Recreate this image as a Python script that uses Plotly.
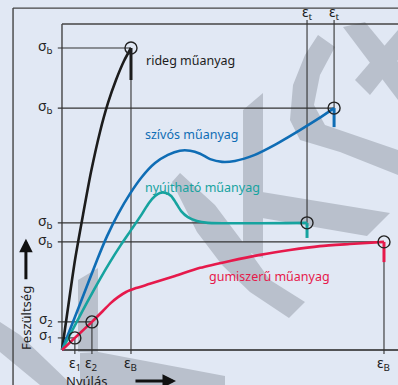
import plotly.graph_objects as go

# Stress-strain curves of plastics.
# Strain as % of the rubber-like break strain, stress as % of the brittle strength.
brittle_x = [0, 1.86, 4.04, 6.52, 9.01, 11.80, 14.29, 16.77, 19.25, 21.43]
brittle_y = [0, 13.9, 29.8, 44.7, 58.9, 72.2, 81.8, 89.4, 95.7, 100.0]

tough_x = [0, 5.6, 10.9, 14.0, 17.4, 21.1, 24.8, 28.9, 32.9, 36.6, 39.8, 42.9, 46.0, 49.7, 53.7, 59.9, 66.1, 73.9, 79.5, 84.5]
tough_y = [0, 15.2, 29.8, 37.7, 45.0, 51.7, 57.3, 61.9, 64.6, 66.0, 66.0, 65.0, 63.2, 62.3, 62.6, 64.6, 67.9, 72.8, 76.5, 80.1]

ductile_x = [0, 7.5, 11.8, 14.9, 18.3, 21.7, 24.8, 27.0, 28.9, 30.4, 32.3, 33.9, 35.4, 37.0, 39.1, 41.9, 45.3, 76.1]
ductile_y = [0, 15.2, 23.5, 29.1, 34.8, 40.1, 45.0, 48.7, 51.0, 52.0, 52.0, 51.0, 48.7, 46.0, 44.0, 42.7, 42.1, 42.1]

rubber_x = [0, 4.0, 9.3, 12.7, 15.2, 17.4, 19.9, 23.0, 27.3, 35.1, 42.9, 52.2, 61.5, 70.8, 80.1, 89.4, 100.0]
rubber_y = [0, 4.0, 9.3, 12.9, 15.6, 17.5, 19.2, 20.5, 21.9, 24.5, 27.2, 29.5, 31.5, 33.1, 34.4, 35.1, 35.8]

names = ["rideg műanyag", "szívós műanyag", "nyújtható műanyag", "gumiszerű műanyag"]
colors = ["#1c1c1c", "#0f6db5", "#16a39f", "#e6194b"]

# break points (strain, stress) and the stress level the fractured sample drops to
break_eps = [21.43, 84.5, 76.1, 100.0]
break_sig = [100.0, 80.1, 42.1, 35.8]
break_drop = [89.4, 73.8, 37.1, 29.1]
break_eps_labels = ["ε<sub>B</sub>", "ε<sub>t</sub>", "ε<sub>t</sub>", "ε<sub>B</sub>"]

# proportional-limit points on the rubber-like curve
prop_eps = [4.0, 9.3]
prop_sig = [4.0, 9.3]
prop_eps_labels = ["ε<sub>1</sub>", "ε<sub>2</sub>"]
prop_sig_labels = ["σ<sub>1</sub>", "σ<sub>2</sub>"]

BG = "#e1e8f4"
MARK = "#b9c0cc"
INK = "#333333"
X0, X1 = -19.25, 104.35
Y0, Y1 = -11.59, 115.89
TOP = 107.95
TICK = 1.3

fig = go.Figure()

curves = [(brittle_x, brittle_y), (tough_x, tough_y), (ductile_x, ductile_y), (rubber_x, rubber_y)]
for (xs, ys), c, n in zip(curves, colors, names):
    fig.add_trace(go.Scatter(x=xs, y=ys, mode="lines", name=n,
                             line=dict(color=c, width=2.6, shape="spline", smoothing=0.7),
                             hoverinfo="skip"))

# fracture drop at each break
for e, s, d, c in zip(break_eps, break_sig, break_drop, colors):
    fig.add_trace(go.Scatter(x=[e, e], y=[s, d], mode="lines",
                             line=dict(color=c, width=3), hoverinfo="skip"))

# open circles at break and proportional points
fig.add_trace(go.Scatter(x=break_eps + prop_eps, y=break_sig + prop_sig, mode="markers",
                         marker=dict(symbol="circle-open", size=12, color="#222222",
                                     line=dict(width=1.4)),
                         hoverinfo="skip"))

shapes = []

# background lettering
def poly(pts):
    W, H = 398.0, 385.0
    p = "M " + " L ".join(f"{x / W:.4f},{1 - y / H:.4f}" for x, y in pts) + " Z"
    return dict(type="path", path=p, xref="paper", yref="paper",
                fillcolor=MARK, line=dict(width=0), layer="below")

shapes += [
    poly([(243, 110), (263, 93), (263, 258), (243, 250)]),
    poly([(180, 173), (215, 205), (245, 245), (270, 280), (305, 302), (289, 318),
          (250, 292), (222, 265), (197, 232), (172, 182)]),
    poly([(262, 192), (390, 213), (367, 236), (262, 218)]),
    poly([(318, 35), (335, 47), (320, 75), (314, 105), (325, 125), (398, 150), (398, 175),
          (340, 152), (300, 140), (290, 120), (293, 85), (305, 55)]),
    poly([(343, 27), (365, 22), (398, 62), (398, 100)]),
    poly([(398, 30), (398, 60), (370, 95), (355, 80)]),
    poly([(78, 280), (98, 268), (98, 352), (78, 352)]),
    poly([(80, 353), (98, 352), (225, 376), (225, 385), (80, 385)]),
    poly([(0, 322), (20, 335), (72, 385), (40, 385), (0, 352)]),
]

def seg(x0, y0, x1, y1, w=1.1, color=INK):
    return dict(type="line", xref="x", yref="y", x0=x0, y0=y0, x1=x1, y1=y1,
                line=dict(color=color, width=w), layer="below")

# frames and axes
shapes += [
    seg(-15.2, Y0, -15.2, 113.2, 1.4, "#444444"),
    seg(-15.2, 113.2, X1, 113.2, 1.4, "#444444"),
    seg(0, 0, 0, TOP, 1.4, "#444444"),
    seg(0, TOP, X1, TOP, 1.4, "#444444"),
    seg(0, 0, X1, 0, 1.4, "#222222"),
]

# guide lines to the break points
for e, s, d, lab in zip(break_eps, break_sig, break_drop, break_eps_labels):
    shapes.append(seg(-TICK, s, e, s))
    if "t" in lab:
        shapes.append(seg(e, s, e, 109.3))
    else:
        shapes.append(seg(e, d, e, -TICK))
for e, s in zip(prop_eps, prop_sig):
    shapes.append(seg(-TICK, s, e, s))
    shapes.append(seg(e, s, e, -TICK))

annotations = []
FONT = "Noto Sans"

def txt(x, y, t, size=13, color="#222222", xa="center", ya="middle", **kw):
    annotations.append(dict(x=x, y=y, xref="x", yref="y", text=t, showarrow=False,
                            xanchor=xa, yanchor=ya,
                            font=dict(family=FONT, size=size, color=color), **kw))

for s in break_sig:
    txt(-2.3, s + 0.6, "σ<sub>b</sub>", 14, xa="right")
for s, lab in zip(prop_sig, prop_sig_labels):
    txt(-2.3, s + 0.6, lab, 13.5, xa="right")
for e, lab in zip(break_eps, break_eps_labels):
    if "t" in lab:
        txt(e, 111.9, lab, 14)
    else:
        txt(e, -4.6, lab, 14)
for e, lab in zip(prop_eps, prop_eps_labels):
    txt(e, -4.6, lab, 14)

label_pos = [(25.5, 95.7), (25.2, 71.2), (25.2, 53.9), (45.0, 24.5)]
for (x, y), n, c in zip(label_pos, names, colors):
    txt(x, y, n, 12.5, c, xa="left")

txt(-11.2, 10.6, "Feszültség", 13, textangle=-90)
txt(7.5, -10.1, "Nyúlás", 13)

# axis direction arrows
annotations.append(dict(x=-11.2, y=36.8, xref="x", yref="y", ax=0, ay=42,
                        showarrow=True, arrowhead=2, arrowsize=0.9, arrowwidth=3,
                        arrowcolor="#111111", text=""))
annotations.append(dict(x=35.4, y=-10.3, xref="x", yref="y", ax=-42, ay=0,
                        showarrow=True, arrowhead=2, arrowsize=0.9, arrowwidth=3,
                        arrowcolor="#111111", text=""))

fig.update_layout(
    width=398, height=385,
    margin=dict(l=0, r=0, t=0, b=0),
    paper_bgcolor=BG, plot_bgcolor=BG,
    showlegend=False,
    xaxis=dict(range=[X0, X1], visible=False, fixedrange=True),
    yaxis=dict(range=[Y0, Y1], visible=False, fixedrange=True),
    shapes=shapes,
    annotations=annotations,
)

fig.write_html("out.html")
